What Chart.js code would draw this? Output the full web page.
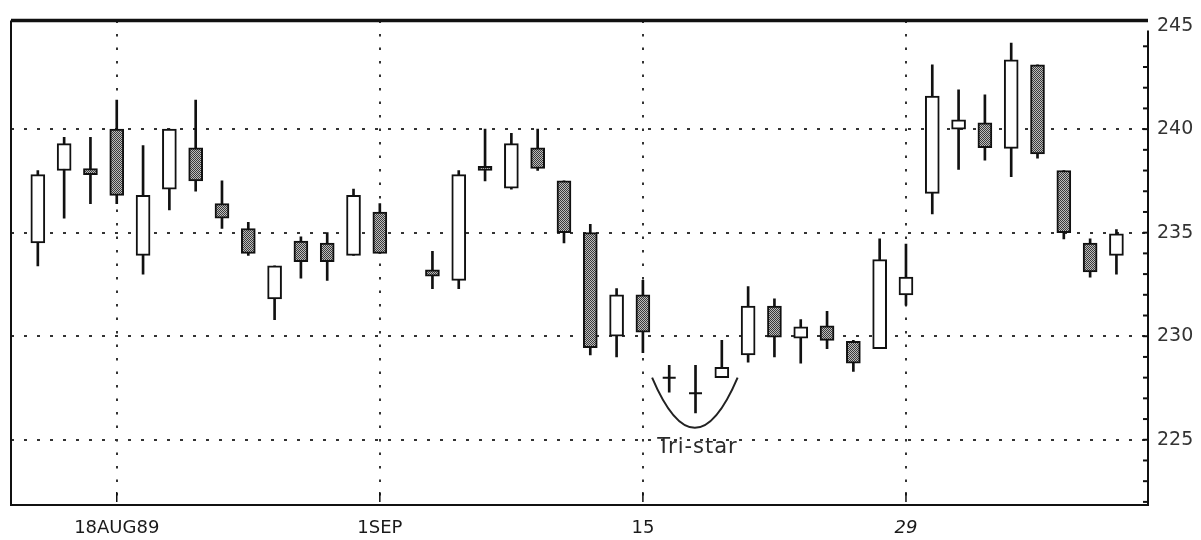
<!DOCTYPE html>
<html><head><meta charset="utf-8">
<script src="https://cdn.jsdelivr.net/npm/chart.js@4/dist/chart.umd.min.js"></script>
<style>html,body{margin:0;padding:0;background:#fff;}#wrap{width:1201px;height:540px;}</style>
</head><body><div id="wrap"><canvas id="c" width="1201" height="540"></canvas></div>
<script>
// Trading-day slots (4SEP = Labor Day holiday, empty slot)
const dates = ['15AUG','16AUG','17AUG','18AUG','21AUG','22AUG','23AUG','24AUG','25AUG','28AUG','29AUG','30AUG','31AUG','1SEP',
  '4SEP','5SEP','6SEP','7SEP','8SEP','11SEP','12SEP','13SEP','14SEP','15SEP','18SEP','19SEP','20SEP','21SEP','22SEP',
  '25SEP','26SEP','27SEP','28SEP','29SEP','2OCT','3OCT','4OCT','5OCT','6OCT','9OCT','10OCT','11OCT'];
const open  = [234.5,238.0,238.1,240.0,233.9,237.1,239.1,236.4,235.2,231.8,234.6,234.5,233.9,236.0,
  null,233.2,232.7,238.2,237.15,239.1,237.5,235.0,230.0,232.0,228.0,227.25,228.0,229.1,231.45,
  229.9,230.5,229.75,229.4,232.0,236.9,240.0,240.3,239.07,243.1,238.0,234.5,233.9];
const high  = [238.0,239.6,239.6,241.4,239.2,240.0,241.4,237.5,235.5,233.4,234.8,235.0,237.1,236.4,
  null,234.1,238.0,240.0,239.8,240.0,237.5,235.4,232.3,232.7,228.6,228.6,229.8,232.4,231.8,
  230.8,231.2,229.8,234.7,234.45,243.1,241.9,241.65,244.15,243.1,238.0,234.7,235.15];
const low   = [233.4,235.7,236.4,236.4,233.0,236.1,237.0,235.2,233.9,230.8,232.8,232.7,233.9,234.0,
  null,232.3,232.3,237.5,237.1,238.0,234.5,229.1,229.0,229.2,227.3,226.3,228.0,228.75,229.0,
  228.7,229.4,228.3,229.4,231.5,235.9,238.05,238.5,237.7,238.6,234.7,232.85,233.0];
const close = [237.8,239.3,237.8,236.8,236.8,240.0,237.5,235.7,234.0,233.4,233.6,233.6,236.8,234.0,
  null,232.9,237.8,238.0,239.3,238.1,235.0,229.45,232.0,230.2,228.0,227.25,228.5,231.45,229.95,
  230.45,229.8,228.7,233.7,232.85,241.6,240.45,239.1,243.35,238.8,235.0,233.1,234.95];
const tickDates  = ['18AUG','1SEP','15SEP','29SEP'];
const tickLabels = ['18AUG89','1SEP','15','29'];
const priceTicks = [225,230,235,240,245];
const triStar = ['18SEP','19SEP','20SEP'];
const noteText = 'Tri-star';

function makePattern(){
  const c = document.createElement('canvas'); c.width = 2; c.height = 2;
  const g = c.getContext('2d');
  g.fillStyle = '#bdbdbd'; g.fillRect(0,0,2,2);
  g.fillStyle = '#3a3a3a'; g.fillRect(0,0,1,1); g.fillRect(1,1,1,1);
  return g.createPattern(c,'repeat');
}
const shade = makePattern();

const idx = dates.map((d,i)=>i).filter(i=>open[i]!==null);
const bodyIdx = idx.filter(i=>open[i]!==close[i]);
const dojiIdx = idx.filter(i=>open[i]===close[i]);

const wickData = idx.map(i=>({x:i, y:[low[i], high[i]]}));
const bodyData = bodyIdx.map(i=>({x:i, y:[Math.min(open[i],close[i]), Math.max(open[i],close[i])]}));
const bodyColors = bodyIdx.map(i=> close[i] < open[i] ? shade : '#ffffff');
const dojiData = dojiIdx.map(i=>({x:i, y:close[i]}));

const framePlugin = {
  id:'frame',
  afterDraw(chart){
    const {ctx, chartArea:a, scales:{x,y}} = chart;
    const line=(x1,y1,x2,y2)=>{ctx.beginPath();ctx.moveTo(x1,y1);ctx.lineTo(x2,y2);ctx.stroke();};
    ctx.save();
    ctx.setLineDash([]);
    ctx.strokeStyle = '#111';
    ctx.lineWidth = 3.5; line(a.left, a.top, a.right, a.top);
    ctx.lineWidth = 2;
    line(a.left, a.top, a.left, a.bottom);
    line(a.left-1, a.bottom, a.right+1, a.bottom);
    line(a.right, a.top+10, a.right, a.bottom);
    for (let v=Math.ceil(y.min); v<=Math.floor(y.max); v++){
      const py = y.getPixelForValue(v);
      if (py < a.top+12) continue;
      line(a.right-5, py, a.right, py);
    }
    ctx.lineWidth = 1.5;
    x.ticks.forEach(t=>{const px=x.getPixelForValue(t.value); line(px, a.bottom-13, px, a.bottom-3);});
    // Tri-star annotation
    const ids = triStar.map(d=>dates.indexOf(d));
    const x0 = x.getPixelForValue(ids[0]-0.65), x2 = x.getPixelForValue(ids[2]+0.6);
    const yTop = y.getPixelForValue(open[ids[0]]);
    const yBot = y.getPixelForValue(Math.min(...ids.map(i=>low[i]))) + 15;
    ctx.strokeStyle = '#222'; ctx.lineWidth = 2;
    ctx.beginPath(); ctx.moveTo(x0, yTop);
    ctx.quadraticCurveTo((x0+x2)/2, 2*yBot - yTop, x2, yTop); ctx.stroke();
    ctx.fillStyle = '#2a2a2a';
    ctx.font = '21px "DejaVu Sans"';
    try { ctx.letterSpacing = '1px'; } catch(e){}
    ctx.textAlign = 'center'; ctx.textBaseline = 'middle';
    ctx.fillText(noteText, x.getPixelForValue(ids[1]) + 2, y.getPixelForValue(225) + 8);
    ctx.restore();
  }
};

new Chart(document.getElementById('c'), {
  type:'bar',
  data:{ datasets:[
    { type:'scatter', data:dojiData, pointStyle:'line', radius:6.5, borderWidth:2, borderColor:'#111', order:0 },
    { type:'bar', data:bodyData, backgroundColor:bodyColors, borderColor:'#111', borderWidth:2, borderSkipped:false,
      barThickness:14, grouped:false, order:1 },
    { type:'bar', data:wickData, backgroundColor:'#111', barThickness:2, grouped:false, order:2 }
  ]},
  options:{
    responsive:false, animation:false, events:[],
    layout:{padding:{left:11, top:17, right:0, bottom:0}},
    plugins:{legend:{display:false}, tooltip:{enabled:false}},
    scales:{
      x:{ type:'linear', min:-1.02, max:42.2, offset:false,
        afterBuildTicks:s=>{ s.ticks = tickDates.map(d=>({value:dates.indexOf(d)})); },
        afterFit:s=>{ s.height = 35; },
        ticks:{ autoSkip:false, maxRotation:0, padding:13, color:'#1a1a1a',
          font:ctx=>({family:'DejaVu Sans', size:18, style:(ctx.tick && ctx.tick.value===dates.indexOf('29SEP'))?'italic':'normal'}),
          callback:v=>{ const k = tickDates.findIndex(d=>dates.indexOf(d)===v); return k>=0 ? tickLabels[k] : ''; } },
        grid:{ offset:false, color:'#333', lineWidth:2, drawTicks:false, borderDash:[2.5,11] },
        border:{ display:false, dash:[2.5,11] }
      },
      y:{ type:'linear', position:'right', min:221.85, max:245.25,
        afterBuildTicks:s=>{ s.ticks = priceTicks.map(v=>({value:v})); },
        afterFit:s=>{ s.width = 53; },
        ticks:{ padding:9, color:'#333', font:{family:'DejaVu Sans', size:19}, callback:v=>String(v) },
        grid:{ offset:false, color:ctx=>(ctx.tick && ctx.tick.value===245)?'rgba(0,0,0,0)':'#333', lineWidth:2, drawTicks:false, borderDash:[3,10] },
        border:{ display:false, dash:[3,10] }
      }
    }
  },
  plugins:[framePlugin]
});
</script></body></html>
